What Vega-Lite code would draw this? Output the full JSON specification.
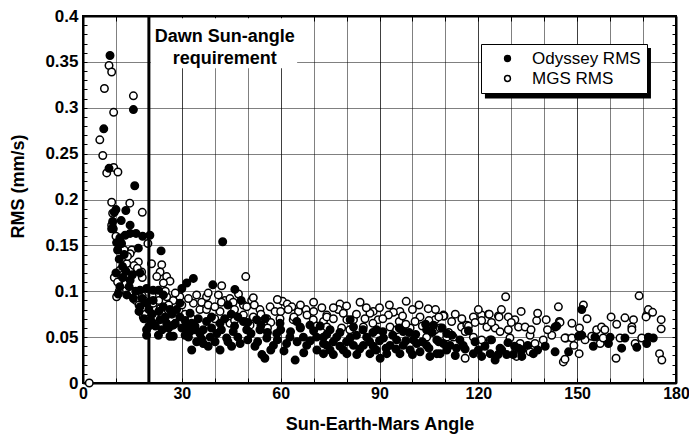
{
  "$schema": "https://vega.github.io/schema/vega-lite/v6.json",
  "width": 593,
  "height": 367,
  "autosize": {"type": "none"},
  "padding": {"left": 83, "top": 16, "right": 13, "bottom": 57},
  "background": "white",
  "view": {"stroke": "black", "strokeWidth": 2},
  "config": {
    "view": {"stroke": "black", "strokeWidth": 2},
    "font": "Liberation Sans"
  },
  "datasets": {
    "pts": [
      {"angle":1.9,"rms":0.0,"series":"M"},{"angle":7.9,"rms":0.346,"series":"M"},{"angle":8.7,"rms":0.339,"series":"M"},{"angle":6.5,"rms":0.321,"series":"M"},{"angle":15.3,"rms":0.313,"series":"M"},{"angle":9.3,"rms":0.295,"series":"M"},{"angle":5.1,"rms":0.265,"series":"M"},{"angle":6.0,"rms":0.248,"series":"M"},{"angle":9.3,"rms":0.235,"series":"M"},{"angle":7.2,"rms":0.229,"series":"M"},{"angle":10.6,"rms":0.230,"series":"M"},{"angle":8.7,"rms":0.197,"series":"M"},{"angle":14.2,"rms":0.196,"series":"M"},{"angle":18.0,"rms":0.186,"series":"M"},{"angle":8.7,"rms":0.172,"series":"M"},
      {"angle":14.8,"rms":0.145,"series":"M"},{"angle":14.3,"rms":0.141,"series":"M"},{"angle":19.7,"rms":0.152,"series":"M"},
      {"angle":12.2,"rms":0.135,"series":"M"},{"angle":13.3,"rms":0.130,"series":"M"},{"angle":16.8,"rms":0.132,"series":"M"},{"angle":14.3,"rms":0.123,"series":"M"},{"angle":17.8,"rms":0.121,"series":"M"},{"angle":11.2,"rms":0.123,"series":"M"},{"angle":12.2,"rms":0.118,"series":"M"},{"angle":20.8,"rms":0.130,"series":"M"},{"angle":23.9,"rms":0.129,"series":"M"},{"angle":23.4,"rms":0.121,"series":"M"},{"angle":22.4,"rms":0.116,"series":"M"},{"angle":25.4,"rms":0.116,"series":"M"},{"angle":26.4,"rms":0.111,"series":"M"},{"angle":24.4,"rms":0.109,"series":"M"},{"angle":10.2,"rms":0.094,"series":"M"},
      {"angle":18.3,"rms":0.072,"series":"M"},{"angle":21.9,"rms":0.080,"series":"M"},{"angle":23.4,"rms":0.081,"series":"M"},{"angle":27.4,"rms":0.090,"series":"M"},{"angle":34.5,"rms":0.096,"series":"M"},{"angle":37.5,"rms":0.094,"series":"M"},{"angle":18.8,"rms":0.089,"series":"M"},{"angle":21.3,"rms":0.087,"series":"M"},{"angle":25.4,"rms":0.094,"series":"M"},{"angle":29.4,"rms":0.094,"series":"M"},{"angle":33.5,"rms":0.087,"series":"M"},{"angle":35.5,"rms":0.080,"series":"M"},
      {"angle":49.4,"rms":0.116,"series":"M"},{"angle":42.1,"rms":0.106,"series":"M"},{"angle":41.1,"rms":0.096,"series":"M"},{"angle":38.0,"rms":0.098,"series":"M"},{"angle":43.1,"rms":0.090,"series":"M"},{"angle":44.6,"rms":0.092,"series":"M"},{"angle":47.2,"rms":0.097,"series":"M"},{"angle":45.6,"rms":0.088,"series":"M"},{"angle":48.7,"rms":0.085,"series":"M"},{"angle":51.2,"rms":0.090,"series":"M"},{"angle":51.7,"rms":0.093,"series":"M"},{"angle":49.7,"rms":0.083,"series":"M"},
      {"angle":56.8,"rms":0.083,"series":"M"},{"angle":58.3,"rms":0.078,"series":"M"},{"angle":60.6,"rms":0.089,"series":"M"},{"angle":62.0,"rms":0.086,"series":"M"},{"angle":63.4,"rms":0.083,"series":"M"},{"angle":62.3,"rms":0.080,"series":"M"},{"angle":65.4,"rms":0.078,"series":"M"},{"angle":67.7,"rms":0.080,"series":"M"},{"angle":72.5,"rms":0.082,"series":"M"},{"angle":74.0,"rms":0.074,"series":"M"},{"angle":53.7,"rms":0.080,"series":"M"},
      {"angle":37.5,"rms":0.080,"series":"M"},{"angle":41.6,"rms":0.078,"series":"M"},{"angle":45.6,"rms":0.076,"series":"M"},{"angle":48.7,"rms":0.074,"series":"M"},{"angle":51.7,"rms":0.072,"series":"M"},{"angle":55.8,"rms":0.070,"series":"M"},{"angle":59.8,"rms":0.070,"series":"M"},{"angle":63.8,"rms":0.069,"series":"M"},{"angle":69.9,"rms":0.069,"series":"M"},{"angle":73.0,"rms":0.067,"series":"M"},{"angle":44.6,"rms":0.065,"series":"M"},{"angle":50.7,"rms":0.063,"series":"M"},{"angle":65.9,"rms":0.061,"series":"M"},
      {"angle":78.0,"rms":0.086,"series":"M"},{"angle":77.5,"rms":0.080,"series":"M"},{"angle":84.1,"rms":0.088,"series":"M"},{"angle":88.1,"rms":0.078,"series":"M"},{"angle":87.1,"rms":0.076,"series":"M"},{"angle":98.1,"rms":0.089,"series":"M"},{"angle":96.2,"rms":0.078,"series":"M"},{"angle":94.2,"rms":0.077,"series":"M"},{"angle":92.7,"rms":0.074,"series":"M"},{"angle":104.8,"rms":0.081,"series":"M"},{"angle":102.3,"rms":0.072,"series":"M"},{"angle":100.8,"rms":0.067,"series":"M"},{"angle":109.4,"rms":0.074,"series":"M"},{"angle":106.9,"rms":0.069,"series":"M"},{"angle":74.0,"rms":0.072,"series":"M"},{"angle":76.0,"rms":0.070,"series":"M"},{"angle":80.1,"rms":0.069,"series":"M"},{"angle":82.1,"rms":0.069,"series":"M"},{"angle":85.6,"rms":0.070,"series":"M"},{"angle":89.6,"rms":0.069,"series":"M"},{"angle":74.0,"rms":0.061,"series":"M"},{"angle":78.5,"rms":0.060,"series":"M"},{"angle":85.1,"rms":0.061,"series":"M"},{"angle":93.2,"rms":0.061,"series":"M"},{"angle":95.2,"rms":0.058,"series":"M"},{"angle":99.3,"rms":0.060,"series":"M"},{"angle":104.3,"rms":0.050,"series":"M"},{"angle":106.9,"rms":0.058,"series":"M"},
      {"angle":128.3,"rms":0.094,"series":"M"},{"angle":109.6,"rms":0.073,"series":"M"},{"angle":111.9,"rms":0.067,"series":"M"},{"angle":114.9,"rms":0.061,"series":"M"},{"angle":116.5,"rms":0.063,"series":"M"},{"angle":118.5,"rms":0.072,"series":"M"},{"angle":121.0,"rms":0.074,"series":"M"},{"angle":123.1,"rms":0.075,"series":"M"},{"angle":121.0,"rms":0.068,"series":"M"},{"angle":126.1,"rms":0.073,"series":"M"},{"angle":129.1,"rms":0.072,"series":"M"},{"angle":131.1,"rms":0.069,"series":"M"},{"angle":132.2,"rms":0.061,"series":"M"},{"angle":134.2,"rms":0.061,"series":"M"},{"angle":137.7,"rms":0.068,"series":"M"},{"angle":140.6,"rms":0.069,"series":"M"},{"angle":144.3,"rms":0.083,"series":"M"},{"angle":144.6,"rms":0.067,"series":"M"},{"angle":112.4,"rms":0.050,"series":"M"},{"angle":116.0,"rms":0.056,"series":"M"},{"angle":118.5,"rms":0.050,"series":"M"},{"angle":122.6,"rms":0.061,"series":"M"},{"angle":125.1,"rms":0.060,"series":"M"},{"angle":126.6,"rms":0.056,"series":"M"},{"angle":129.1,"rms":0.058,"series":"M"},{"angle":129.6,"rms":0.049,"series":"M"},{"angle":121.0,"rms":0.047,"series":"M"},{"angle":123.6,"rms":0.047,"series":"M"},{"angle":132.7,"rms":0.043,"series":"M"},{"angle":135.7,"rms":0.052,"series":"M"},{"angle":137.2,"rms":0.043,"series":"M"},{"angle":142.3,"rms":0.052,"series":"M"},{"angle":146.6,"rms":0.049,"series":"M"},{"angle":145.8,"rms":0.023,"series":"M"},{"angle":146.3,"rms":0.026,"series":"M"},{"angle":116.0,"rms":0.027,"series":"M"},{"angle":108.4,"rms":0.060,"series":"M"},{"angle":110.4,"rms":0.050,"series":"M"},{"angle":131.6,"rms":0.029,"series":"M"},{"angle":135.7,"rms":0.034,"series":"M"},{"angle":139.7,"rms":0.047,"series":"M"},
      {"angle":168.8,"rms":0.095,"series":"M"},{"angle":151.9,"rms":0.085,"series":"M"},{"angle":153.0,"rms":0.070,"series":"M"},{"angle":144.8,"rms":0.066,"series":"M"},{"angle":148.4,"rms":0.065,"series":"M"},{"angle":150.7,"rms":0.060,"series":"M"},{"angle":146.3,"rms":0.049,"series":"M"},{"angle":148.4,"rms":0.049,"series":"M"},{"angle":149.0,"rms":0.041,"series":"M"},{"angle":150.6,"rms":0.032,"series":"M"},{"angle":152.4,"rms":0.047,"series":"M"},{"angle":154.4,"rms":0.051,"series":"M"},{"angle":155.9,"rms":0.058,"series":"M"},{"angle":157.4,"rms":0.061,"series":"M"},{"angle":158.4,"rms":0.058,"series":"M"},{"angle":157.0,"rms":0.043,"series":"M"},{"angle":157.9,"rms":0.049,"series":"M"},{"angle":160.3,"rms":0.072,"series":"M"},{"angle":162.0,"rms":0.064,"series":"M"},{"angle":164.5,"rms":0.071,"series":"M"},{"angle":167.1,"rms":0.069,"series":"M"},{"angle":166.6,"rms":0.061,"series":"M"},{"angle":166.6,"rms":0.058,"series":"M"},{"angle":161.8,"rms":0.027,"series":"M"},{"angle":163.0,"rms":0.049,"series":"M"},{"angle":167.6,"rms":0.043,"series":"M"},{"angle":171.1,"rms":0.074,"series":"M"},{"angle":171.6,"rms":0.080,"series":"M"},{"angle":172.9,"rms":0.077,"series":"M"},{"angle":170.9,"rms":0.072,"series":"M"},{"angle":175.5,"rms":0.069,"series":"M"},{"angle":175.5,"rms":0.059,"series":"M"},{"angle":175.0,"rms":0.032,"series":"M"},{"angle":175.7,"rms":0.025,"series":"M"},{"angle":169.6,"rms":0.049,"series":"M"},
      {"angle":109.4,"rms":0.073,"series":"M"},{"angle":123.3,"rms":0.075,"series":"M"},{"angle":126.3,"rms":0.072,"series":"M"},
      {"angle":9.0,"rms":0.185,"series":"M"},{"angle":10.0,"rms":0.160,"series":"M"},{"angle":11.5,"rms":0.150,"series":"M"},{"angle":12.5,"rms":0.145,"series":"M"},{"angle":13.5,"rms":0.138,"series":"M"},{"angle":15.5,"rms":0.128,"series":"M"},{"angle":16.5,"rms":0.125,"series":"M"},{"angle":18.0,"rms":0.115,"series":"M"},{"angle":9.5,"rms":0.115,"series":"M"},{"angle":10.5,"rms":0.110,"series":"M"},{"angle":11.0,"rms":0.100,"series":"M"},{"angle":13.0,"rms":0.108,"series":"M"},{"angle":15.0,"rms":0.100,"series":"M"},{"angle":16.0,"rms":0.090,"series":"M"},{"angle":17.0,"rms":0.085,"series":"M"},{"angle":18.0,"rms":0.095,"series":"M"},{"angle":19.0,"rms":0.075,"series":"M"},{"angle":20.0,"rms":0.070,"series":"M"},{"angle":21.0,"rms":0.095,"series":"M"},{"angle":22.0,"rms":0.072,"series":"M"},{"angle":23.0,"rms":0.090,"series":"M"},{"angle":24.0,"rms":0.075,"series":"M"},{"angle":25.0,"rms":0.100,"series":"M"},{"angle":26.0,"rms":0.085,"series":"M"},{"angle":27.0,"rms":0.078,"series":"M"},{"angle":28.0,"rms":0.098,"series":"M"},{"angle":30.0,"rms":0.085,"series":"M"},{"angle":31.0,"rms":0.075,"series":"M"},{"angle":32.0,"rms":0.092,"series":"M"},{"angle":33.0,"rms":0.070,"series":"M"},{"angle":36.0,"rms":0.088,"series":"M"},{"angle":38.0,"rms":0.085,"series":"M"},{"angle":40.0,"rms":0.083,"series":"M"},{"angle":42.0,"rms":0.088,"series":"M"},{"angle":46.0,"rms":0.080,"series":"M"},{"angle":52.0,"rms":0.085,"series":"M"},{"angle":54.0,"rms":0.075,"series":"M"},{"angle":57.0,"rms":0.066,"series":"M"},{"angle":60.0,"rms":0.078,"series":"M"},{"angle":64.0,"rms":0.072,"series":"M"},{"angle":66.0,"rms":0.085,"series":"M"},{"angle":68.0,"rms":0.074,"series":"M"},{"angle":70.0,"rms":0.078,"series":"M"},{"angle":71.0,"rms":0.062,"series":"M"},{"angle":76.0,"rms":0.082,"series":"M"},{"angle":79.0,"rms":0.076,"series":"M"},{"angle":81.0,"rms":0.058,"series":"M"},{"angle":83.0,"rms":0.075,"series":"M"},{"angle":86.0,"rms":0.082,"series":"M"},{"angle":88.0,"rms":0.065,"series":"M"},{"angle":90.0,"rms":0.082,"series":"M"},{"angle":91.0,"rms":0.070,"series":"M"},{"angle":93.0,"rms":0.085,"series":"M"},{"angle":96.0,"rms":0.067,"series":"M"},{"angle":97.0,"rms":0.073,"series":"M"},{"angle":98.0,"rms":0.064,"series":"M"},{"angle":100.0,"rms":0.080,"series":"M"},{"angle":102.0,"rms":0.085,"series":"M"},{"angle":103.0,"rms":0.062,"series":"M"},{"angle":105.0,"rms":0.068,"series":"M"},{"angle":107.0,"rms":0.080,"series":"M"},{"angle":108.0,"rms":0.072,"series":"M"},{"angle":111.0,"rms":0.055,"series":"M"},{"angle":113.0,"rms":0.075,"series":"M"},{"angle":115.0,"rms":0.070,"series":"M"},{"angle":117.0,"rms":0.062,"series":"M"},{"angle":119.0,"rms":0.066,"series":"M"},{"angle":120.0,"rms":0.080,"series":"M"},{"angle":124.0,"rms":0.066,"series":"M"},{"angle":127.0,"rms":0.080,"series":"M"},{"angle":130.0,"rms":0.066,"series":"M"},{"angle":133.0,"rms":0.078,"series":"M"},{"angle":136.0,"rms":0.058,"series":"M"},{"angle":138.0,"rms":0.076,"series":"M"},{"angle":141.0,"rms":0.058,"series":"M"},{"angle":59.0,"rms":0.091,"series":"M"},{"angle":70.0,"rms":0.088,"series":"M"},{"angle":80.0,"rms":0.084,"series":"M"},{"angle":56.0,"rms":0.060,"series":"M"},{"angle":46.0,"rms":0.068,"series":"M"},{"angle":40.0,"rms":0.070,"series":"M"},
      {"angle":8.2,"rms":0.357,"series":"O"},{"angle":15.3,"rms":0.298,"series":"O"},{"angle":6.3,"rms":0.277,"series":"O"},{"angle":7.9,"rms":0.234,"series":"O"},{"angle":15.7,"rms":0.215,"series":"O"},{"angle":10.0,"rms":0.189,"series":"O"},{"angle":9.5,"rms":0.186,"series":"O"},{"angle":13.0,"rms":0.188,"series":"O"},{"angle":9.0,"rms":0.176,"series":"O"},{"angle":11.6,"rms":0.177,"series":"O"},{"angle":14.3,"rms":0.172,"series":"O"},{"angle":9.2,"rms":0.168,"series":"O"},{"angle":8.7,"rms":0.168,"series":"O"},
      {"angle":11.2,"rms":0.158,"series":"O"},{"angle":12.8,"rms":0.161,"series":"O"},{"angle":14.3,"rms":0.163,"series":"O"},{"angle":16.1,"rms":0.163,"series":"O"},{"angle":18.1,"rms":0.160,"series":"O"},{"angle":20.3,"rms":0.161,"series":"O"},{"angle":10.2,"rms":0.153,"series":"O"},{"angle":11.7,"rms":0.152,"series":"O"},{"angle":16.8,"rms":0.147,"series":"O"},{"angle":23.7,"rms":0.144,"series":"O"},
      {"angle":12.0,"rms":0.127,"series":"O"},{"angle":17.3,"rms":0.120,"series":"O"},{"angle":14.3,"rms":0.112,"series":"O"},{"angle":11.2,"rms":0.105,"series":"O"},{"angle":33.5,"rms":0.114,"series":"O"},{"angle":10.7,"rms":0.097,"series":"O"},{"angle":13.3,"rms":0.096,"series":"O"},{"angle":15.3,"rms":0.092,"series":"O"},{"angle":17.3,"rms":0.101,"series":"O"},{"angle":19.3,"rms":0.103,"series":"O"},{"angle":21.3,"rms":0.101,"series":"O"},{"angle":22.9,"rms":0.101,"series":"O"},{"angle":24.4,"rms":0.096,"series":"O"},{"angle":30.0,"rms":0.103,"series":"O"},{"angle":31.5,"rms":0.109,"series":"O"},
      {"angle":19.3,"rms":0.052,"series":"O"},{"angle":22.9,"rms":0.052,"series":"O"},{"angle":26.4,"rms":0.051,"series":"O"},{"angle":27.4,"rms":0.051,"series":"O"},{"angle":33.0,"rms":0.036,"series":"O"},{"angle":34.5,"rms":0.045,"series":"O"},{"angle":36.5,"rms":0.043,"series":"O"},
      {"angle":19.3,"rms":0.058,"series":"O"},{"angle":20.8,"rms":0.067,"series":"O"},{"angle":23.4,"rms":0.069,"series":"O"},{"angle":25.4,"rms":0.065,"series":"O"},{"angle":27.4,"rms":0.063,"series":"O"},{"angle":29.4,"rms":0.072,"series":"O"},{"angle":31.5,"rms":0.061,"series":"O"},{"angle":32.5,"rms":0.056,"series":"O"},{"angle":35.5,"rms":0.054,"series":"O"},
      {"angle":17.3,"rms":0.083,"series":"O"},{"angle":19.3,"rms":0.087,"series":"O"},{"angle":21.3,"rms":0.090,"series":"O"},{"angle":24.4,"rms":0.083,"series":"O"},{"angle":26.4,"rms":0.080,"series":"O"},{"angle":28.4,"rms":0.080,"series":"O"},{"angle":29.4,"rms":0.087,"series":"O"},{"angle":32.5,"rms":0.076,"series":"O"},
      {"angle":42.4,"rms":0.154,"series":"O"},{"angle":39.4,"rms":0.107,"series":"O"},{"angle":46.1,"rms":0.102,"series":"O"},
      {"angle":41.6,"rms":0.036,"series":"O"},{"angle":45.1,"rms":0.040,"series":"O"},{"angle":52.2,"rms":0.040,"series":"O"},{"angle":54.3,"rms":0.031,"series":"O"},{"angle":55.2,"rms":0.027,"series":"O"},{"angle":64.4,"rms":0.025,"series":"O"},{"angle":40.1,"rms":0.045,"series":"O"},{"angle":47.7,"rms":0.043,"series":"O"},{"angle":57.8,"rms":0.041,"series":"O"},{"angle":61.8,"rms":0.043,"series":"O"},{"angle":67.9,"rms":0.041,"series":"O"},{"angle":73.0,"rms":0.043,"series":"O"},
      {"angle":36.5,"rms":0.058,"series":"O"},{"angle":40.6,"rms":0.054,"series":"O"},{"angle":45.6,"rms":0.056,"series":"O"},{"angle":49.7,"rms":0.058,"series":"O"},{"angle":53.7,"rms":0.058,"series":"O"},{"angle":58.8,"rms":0.054,"series":"O"},{"angle":62.8,"rms":0.050,"series":"O"},{"angle":66.9,"rms":0.050,"series":"O"},{"angle":70.9,"rms":0.050,"series":"O"},{"angle":38.6,"rms":0.050,"series":"O"},{"angle":43.6,"rms":0.049,"series":"O"},{"angle":55.8,"rms":0.049,"series":"O"},
      {"angle":52.7,"rms":0.069,"series":"O"},{"angle":55.3,"rms":0.070,"series":"O"},{"angle":48.7,"rms":0.067,"series":"O"},{"angle":41.6,"rms":0.065,"series":"O"},{"angle":59.8,"rms":0.065,"series":"O"},{"angle":64.9,"rms":0.067,"series":"O"},{"angle":68.9,"rms":0.063,"series":"O"},{"angle":37.5,"rms":0.067,"series":"O"},
      {"angle":73.0,"rms":0.032,"series":"O"},{"angle":76.0,"rms":0.031,"series":"O"},{"angle":80.1,"rms":0.032,"series":"O"},{"angle":83.1,"rms":0.031,"series":"O"},{"angle":87.1,"rms":0.032,"series":"O"},{"angle":90.2,"rms":0.027,"series":"O"},{"angle":92.2,"rms":0.032,"series":"O"},{"angle":96.2,"rms":0.032,"series":"O"},{"angle":99.3,"rms":0.036,"series":"O"},{"angle":102.3,"rms":0.034,"series":"O"},{"angle":105.3,"rms":0.029,"series":"O"},{"angle":107.4,"rms":0.032,"series":"O"},{"angle":110.4,"rms":0.036,"series":"O"},
      {"angle":74.0,"rms":0.041,"series":"O"},{"angle":78.0,"rms":0.040,"series":"O"},{"angle":82.1,"rms":0.041,"series":"O"},{"angle":85.1,"rms":0.041,"series":"O"},{"angle":88.1,"rms":0.040,"series":"O"},{"angle":93.2,"rms":0.041,"series":"O"},{"angle":97.2,"rms":0.041,"series":"O"},{"angle":101.3,"rms":0.043,"series":"O"},{"angle":104.3,"rms":0.041,"series":"O"},{"angle":109.4,"rms":0.043,"series":"O"},
      {"angle":73.0,"rms":0.050,"series":"O"},{"angle":77.0,"rms":0.050,"series":"O"},{"angle":81.1,"rms":0.049,"series":"O"},{"angle":86.1,"rms":0.050,"series":"O"},{"angle":91.2,"rms":0.049,"series":"O"},{"angle":95.2,"rms":0.047,"series":"O"},{"angle":100.3,"rms":0.047,"series":"O"},{"angle":107.4,"rms":0.047,"series":"O"},
      {"angle":75.0,"rms":0.058,"series":"O"},{"angle":82.1,"rms":0.061,"series":"O"},{"angle":89.1,"rms":0.058,"series":"O"},{"angle":97.2,"rms":0.056,"series":"O"},{"angle":104.3,"rms":0.058,"series":"O"},{"angle":110.4,"rms":0.054,"series":"O"},{"angle":81.1,"rms":0.069,"series":"O"},{"angle":106.4,"rms":0.063,"series":"O"},{"angle":143.8,"rms":0.062,"series":"O"},
      {"angle":108.4,"rms":0.032,"series":"O"},{"angle":111.4,"rms":0.041,"series":"O"},{"angle":113.4,"rms":0.038,"series":"O"},{"angle":115.4,"rms":0.041,"series":"O"},{"angle":118.5,"rms":0.032,"series":"O"},{"angle":121.0,"rms":0.029,"series":"O"},{"angle":123.6,"rms":0.032,"series":"O"},{"angle":125.1,"rms":0.025,"series":"O"},{"angle":127.1,"rms":0.036,"series":"O"},{"angle":128.6,"rms":0.031,"series":"O"},{"angle":130.6,"rms":0.031,"series":"O"},{"angle":133.2,"rms":0.036,"series":"O"},{"angle":133.2,"rms":0.029,"series":"O"},{"angle":136.7,"rms":0.032,"series":"O"},{"angle":140.3,"rms":0.040,"series":"O"},{"angle":143.3,"rms":0.034,"series":"O"},{"angle":147.4,"rms":0.034,"series":"O"},{"angle":143.3,"rms":0.061,"series":"O"},{"angle":110.4,"rms":0.040,"series":"O"},{"angle":114.4,"rms":0.047,"series":"O"},{"angle":126.6,"rms":0.038,"series":"O"},{"angle":132.2,"rms":0.038,"series":"O"},
      {"angle":151.4,"rms":0.080,"series":"O"},{"angle":150.4,"rms":0.051,"series":"O"},{"angle":151.4,"rms":0.052,"series":"O"},{"angle":154.9,"rms":0.040,"series":"O"},{"angle":159.5,"rms":0.043,"series":"O"},{"angle":160.0,"rms":0.050,"series":"O"},{"angle":163.5,"rms":0.038,"series":"O"},{"angle":164.5,"rms":0.049,"series":"O"},{"angle":168.1,"rms":0.039,"series":"O"},{"angle":171.1,"rms":0.043,"series":"O"},{"angle":171.6,"rms":0.050,"series":"O"},{"angle":173.1,"rms":0.049,"series":"O"},{"angle":155.4,"rms":0.050,"series":"O"},
      {"angle":31,"rms":0.052,"series":"O"},{"angle":34,"rms":0.062,"series":"O"},{"angle":38,"rms":0.040,"series":"O"},{"angle":39,"rms":0.060,"series":"O"},{"angle":42,"rms":0.058,"series":"O"},{"angle":44,"rms":0.045,"series":"O"},{"angle":46,"rms":0.062,"series":"O"},{"angle":47,"rms":0.050,"series":"O"},{"angle":50,"rms":0.047,"series":"O"},{"angle":51,"rms":0.054,"series":"O"},{"angle":53,"rms":0.045,"series":"O"},{"angle":54,"rms":0.063,"series":"O"},{"angle":56,"rms":0.055,"series":"O"},{"angle":57,"rms":0.036,"series":"O"},{"angle":59,"rms":0.047,"series":"O"},{"angle":60,"rms":0.058,"series":"O"},{"angle":61,"rms":0.035,"series":"O"},{"angle":63,"rms":0.056,"series":"O"},{"angle":65,"rms":0.045,"series":"O"},{"angle":66,"rms":0.060,"series":"O"},{"angle":67,"rms":0.033,"series":"O"},{"angle":69,"rms":0.046,"series":"O"},{"angle":70,"rms":0.057,"series":"O"},{"angle":71,"rms":0.036,"series":"O"},{"angle":72,"rms":0.062,"series":"O"},{"angle":74,"rms":0.053,"series":"O"},{"angle":75,"rms":0.036,"series":"O"},{"angle":76,"rms":0.045,"series":"O"},{"angle":78,"rms":0.055,"series":"O"},{"angle":79,"rms":0.036,"series":"O"},{"angle":80,"rms":0.045,"series":"O"},{"angle":83,"rms":0.052,"series":"O"},{"angle":84,"rms":0.037,"series":"O"},{"angle":85,"rms":0.058,"series":"O"},{"angle":87,"rms":0.045,"series":"O"},{"angle":88,"rms":0.055,"series":"O"},{"angle":89,"rms":0.036,"series":"O"},{"angle":90,"rms":0.046,"series":"O"},{"angle":91,"rms":0.056,"series":"O"},{"angle":92,"rms":0.038,"series":"O"},{"angle":94,"rms":0.052,"series":"O"},{"angle":95,"rms":0.037,"series":"O"},{"angle":96,"rms":0.060,"series":"O"},{"angle":98,"rms":0.046,"series":"O"},{"angle":99,"rms":0.055,"series":"O"},{"angle":100,"rms":0.031,"series":"O"},{"angle":101,"rms":0.053,"series":"O"},{"angle":103,"rms":0.045,"series":"O"},{"angle":104,"rms":0.064,"series":"O"},{"angle":105,"rms":0.038,"series":"O"},{"angle":106,"rms":0.055,"series":"O"},{"angle":108,"rms":0.045,"series":"O"},{"angle":109,"rms":0.060,"series":"O"},{"angle":112,"rms":0.052,"series":"O"},{"angle":113,"rms":0.030,"series":"O"},{"angle":116,"rms":0.037,"series":"O"},{"angle":117,"rms":0.057,"series":"O"},{"angle":119,"rms":0.045,"series":"O"},{"angle":120,"rms":0.036,"series":"O"},{"angle":122,"rms":0.040,"series":"O"},{"angle":124,"rms":0.047,"series":"O"},{"angle":126,"rms":0.031,"series":"O"},{"angle":129,"rms":0.044,"series":"O"},{"angle":131,"rms":0.040,"series":"O"},{"angle":135,"rms":0.041,"series":"O"},{"angle":138,"rms":0.036,"series":"O"},
      {"angle":21,"rms":0.075,"series":"O"},{"angle":22,"rms":0.062,"series":"O"},{"angle":23,"rms":0.078,"series":"O"},{"angle":24,"rms":0.058,"series":"O"},{"angle":25,"rms":0.072,"series":"O"},{"angle":26,"rms":0.060,"series":"O"},{"angle":27,"rms":0.075,"series":"O"},{"angle":28,"rms":0.065,"series":"O"},{"angle":30,"rms":0.060,"series":"O"},{"angle":31,"rms":0.068,"series":"O"},{"angle":32,"rms":0.050,"series":"O"},{"angle":33,"rms":0.065,"series":"O"},{"angle":34,"rms":0.058,"series":"O"},{"angle":35,"rms":0.070,"series":"O"},{"angle":36,"rms":0.048,"series":"O"},{"angle":20,"rms":0.080,"series":"O"},{"angle":18,"rms":0.092,"series":"O"},{"angle":16,"rms":0.100,"series":"O"},{"angle":14,"rms":0.105,"series":"O"},{"angle":12,"rms":0.115,"series":"O"},{"angle":13,"rms":0.122,"series":"O"},{"angle":15,"rms":0.118,"series":"O"},{"angle":11,"rms":0.135,"series":"O"},{"angle":12.5,"rms":0.140,"series":"O"},{"angle":10.5,"rms":0.145,"series":"O"},{"angle":10,"rms":0.120,"series":"O"},{"angle":17,"rms":0.078,"series":"O"},{"angle":18.5,"rms":0.070,"series":"O"},{"angle":20,"rms":0.062,"series":"O"},{"angle":39,"rms":0.072,"series":"O"},{"angle":43,"rms":0.070,"series":"O"},{"angle":45,"rms":0.075,"series":"O"},{"angle":47,"rms":0.072,"series":"O"},{"angle":50,"rms":0.066,"series":"O"},{"angle":44,"rms":0.085,"series":"O"},{"angle":48,"rms":0.090,"series":"O"}
    ],
    "one": [{"note": "annotation"}]
  },
  "resolve": {"axis": {"x": "independent", "y": "independent"}},
  "layer": [
    {
      "data": {"name": "pts"},
      "mark": {"type": "point", "shape": "circle", "filled": true, "size": 56, "stroke": "black", "strokeWidth": 1.5, "opacity": 1},
      "encoding": {
        "x": {
          "field": "angle", "type": "quantitative",
          "scale": {"domain": [0, 180], "nice": false, "zero": false},
          "axis": {
            "title": "Sun-Earth-Mars Angle",
            "values": [0,10,20,30,40,50,60,70,80,90,100,110,120,130,140,150,160,170,180],
            "labelExpr": "datum.value % 30 === 0 ? datum.label : ''",
            "labelOverlap": false,
            "labelFont": "Liberation Sans", "labelFontWeight": "bold", "labelFontSize": 16, "labelColor": "black",
            "labelPadding": 7, "labelFlush": false,
            "titleFont": "Liberation Sans", "titleFontWeight": "bold", "titleFontSize": 18, "titleColor": "black", "titlePadding": 14,
            "domain": true, "domainColor": "black", "domainWidth": 2,
            "ticks": true, "tickSize": -5, "tickColor": "black", "tickWidth": 1,
            "grid": true, "gridColor": "black", "gridWidth": 1, "gridOpacity": 1,
            "gridDash": {"condition": {"test": "datum.value % 30 === 0", "value": [1, 0]}, "value": [1, 1]}
          }
        },
        "y": {
          "field": "rms", "type": "quantitative",
          "scale": {"domain": [0, 0.4], "nice": false, "zero": false},
          "axis": {
            "title": "RMS (mm/s)",
            "values": [0,0.01,0.02,0.03,0.04,0.05,0.06,0.07,0.08,0.09,0.1,0.11,0.12,0.13,0.14,0.15,0.16,0.17,0.18,0.19,0.2,0.21,0.22,0.23,0.24,0.25,0.26,0.27,0.28,0.29,0.3,0.31,0.32,0.33,0.34,0.35,0.36,0.37,0.38,0.39,0.4],
            "labelExpr": "round(datum.value * 100) % 5 === 0 ? format(datum.value, '~g') : ''",
            "labelOverlap": false,
            "labelFont": "Liberation Sans", "labelFontWeight": "bold", "labelFontSize": 17, "labelColor": "black",
            "labelPadding": 9, "labelFlush": false,
            "titleFont": "Liberation Sans", "titleFontWeight": "bold", "titleFontSize": 18, "titleColor": "black",
            "titleX": -65, "titleY": 170, "titleAngle": -90, "titleBaseline": "middle", "titleAlign": "center",
            "domain": true, "domainColor": "black", "domainWidth": 2,
            "ticks": true, "tickSize": -4, "tickColor": "black", "tickWidth": 1,
            "grid": true, "gridColor": "black", "gridWidth": 1, "gridDash": [1, 1],
            "gridOpacity": {"condition": {"test": "round(datum.value * 100) % 5 === 0", "value": 1}, "value": 0}
          }
        },
        "fill": {
          "field": "series", "type": "nominal",
          "scale": {"domain": ["O", "M"], "range": ["black", "white"]},
          "legend": {
            "title": null,
            "orient": "none", "legendX": 398, "legendY": 28,
            "labelExpr": "datum.value === 'O' ? 'Odyssey RMS' : 'MGS RMS'",
            "labelFont": "Liberation Sans", "labelFontSize": 17, "labelColor": "black", "labelFontWeight": "normal",
            "symbolType": "circle", "symbolSize": 34, "symbolStrokeColor": "black", "symbolStrokeWidth": 1.5,
            "symbolOffset": 12, "labelOffset": 16, "rowPadding": 2,
            "padding": 6, "strokeColor": "black", "fillColor": "white"
          }
        }
      }
    },
    {
      "data": {"name": "one"},
      "mark": {"type": "rect", "fill": "black"},
      "encoding": {
        "x": {"datum": 122.0, "type": "quantitative", "axis": null},
        "x2": {"datum": 172.4},
        "y": {"datum": 0.365, "type": "quantitative", "axis": null},
        "y2": {"datum": 0.310}
      }
    },
    {
      "data": {"name": "one"},
      "mark": {"type": "rect", "fill": "white"},
      "encoding": {
        "x": {"datum": 20.6, "type": "quantitative", "axis": null},
        "x2": {"datum": 65},
        "y": {"datum": 0.343, "type": "quantitative", "axis": {"orient": "right", "title": null, "labels": false, "domain": true, "domainColor": "black", "domainWidth": 2, "grid": false, "ticks": true, "tickSize": -4, "tickColor": "black", "values": [0,0.01,0.02,0.03,0.04,0.05,0.06,0.07,0.08,0.09,0.1,0.11,0.12,0.13,0.14,0.15,0.16,0.17,0.18,0.19,0.2,0.21,0.22,0.23,0.24,0.25,0.26,0.27,0.28,0.29,0.3,0.31,0.32,0.33,0.34,0.35,0.36,0.37,0.38,0.39,0.4]}},
        "y2": {"datum": 0.3975}
      }
    },
    {
      "data": {"name": "one"},
      "mark": {"type": "rule", "stroke": "black", "strokeWidth": 3},
      "encoding": {
        "x": {"datum": 20, "type": "quantitative", "axis": {"orient": "top", "title": null, "labels": false, "domain": true, "domainColor": "black", "domainWidth": 2, "grid": false, "ticks": true, "tickSize": -5, "tickColor": "black", "values": [0,10,20,30,40,50,60,70,80,90,100,110,120,130,140,150,160,170,180]}},
        "y": {"datum": 0, "type": "quantitative", "axis": null},
        "y2": {"datum": 0.4}
      }
    },
    {
      "data": {"name": "one"},
      "mark": {"type": "text", "font": "Liberation Sans", "fontWeight": "bold", "fontSize": 18, "align": "center", "baseline": "alphabetic", "lineBreak": "\n", "lineHeight": 22, "color": "black"},
      "encoding": {
        "x": {"datum": 43.0, "type": "quantitative", "axis": null},
        "y": {"datum": 0.372, "type": "quantitative", "axis": null},
        "text": {"value": "Dawn Sun-angle\nrequirement"}
      }
    }
  ]
}
